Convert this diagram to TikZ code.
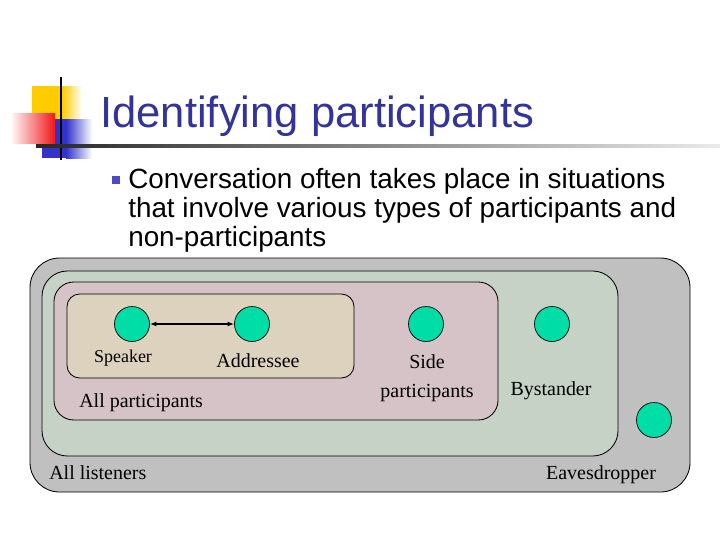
\documentclass[tikz,border=0pt]{standalone}
\usepackage{fontspec}
\setmainfont{Liberation Serif}
\newfontfamily\arialfont{Liberation Sans}
\usetikzlibrary{arrows.meta}
\definecolor{ptitle}{HTML}{333399}
\definecolor{pbullet}{HTML}{4B4BC8}
\definecolor{pyellow}{HTML}{FFCC00}
\definecolor{pred}{HTML}{F01818}
\definecolor{pblue}{HTML}{3333CC}
\definecolor{pgray}{HTML}{C0C0C0}
\definecolor{pgreen}{HTML}{C6D2C6}
\definecolor{ppink}{HTML}{D5C3C7}
\definecolor{ptan}{HTML}{DCD2BD}
\definecolor{pdot}{HTML}{00DDA6}

\begin{document}
\begin{tikzpicture}[
    x=0.025cm, y=-0.025cm,
    region/.style={draw=black, fill=#1, line width=0.6pt},
    person/.style={circle, draw=black, fill=pdot, minimum size=0.875cm,
                   inner sep=0pt, line width=0.5pt},
    lbl/.style={font=\fontsize{14.2}{20.6}\selectfont, inner sep=0pt, anchor=base},
    arr/.style={{Latex[length=1.6mm]}-{Latex[length=1.6mm]}, line width=1pt}
]
\useasboundingbox (0,0) rectangle (720,540);

% title decoration
\fill[pyellow] (32,86) rectangle (62,120);
\shade[left color=pyellow, right color=white] (62,86) rectangle (82,120);
\fill[pblue] (42,119) rectangle (66,158);
\shade[left color=pblue, right color=white] (66,119) rectangle (92,158);
\shade[left color=white, right color=pred] (10,113) rectangle (55,143);
\draw[line width=1.4pt] (61,77) -- (61,160);
\shade[left color=black!85, right color=black!8] (36,144.5) rectangle (720,147.5);

\node[anchor=base west, inner sep=0pt, text=ptitle,
      font=\arialfont\fontsize{31}{36}\selectfont] (title) at (100,127) {Identifying participants};

\node[fill=pbullet, minimum size=5pt, inner sep=0pt] (bullet) at (116,180) {};
\node[anchor=north west, inner sep=0pt, align=left,
      font=\arialfont\fontsize{19.8}{20.6}\selectfont] (intro) at (128,168)
    {Conversation often takes place in situations\\
     that involve various types of participants and\\
     non-participants};

% nested groups
\draw[region=pgray, rounded corners=21pt] (30,258) rectangle (690,492);
\draw[region=pgreen, rounded corners=18pt] (42,271) rectangle (618,456);
\draw[region=ppink, rounded corners=14pt] (54,282) rectangle (498,420);
\draw[region=ptan, rounded corners=9pt] (67,294) rectangle (354,378);

\node[person] (speaker) at (132,324) {};
\node[person] (addressee) at (252,324) {};
\node[person] (side) at (426,324) {};
\node[person] (bystander) at (552,324) {};
\node[person] (eaves) at (654,420) {};

\draw[arr] (speaker) -- (addressee);

\node[lbl, font=\fontsize{12.8}{15}\selectfont] (speakerlbl) at (123,362) {Speaker};
\node[lbl] (addresseelbl) at (258,367) {Addressee};
\node[lbl, anchor=base west] (partlbl) at (79,407) {All participants};
\node[lbl, anchor=north, align=center] (sidelbl) at (427,354) {Side\\participants};
\node[lbl] (bystanderlbl) at (551,395) {Bystander};
\node[lbl, anchor=base west] (listenerlbl) at (49,479) {All listeners};
\node[lbl] (eaveslbl) at (601,479) {Eavesdropper};
\end{tikzpicture}
\end{document}
